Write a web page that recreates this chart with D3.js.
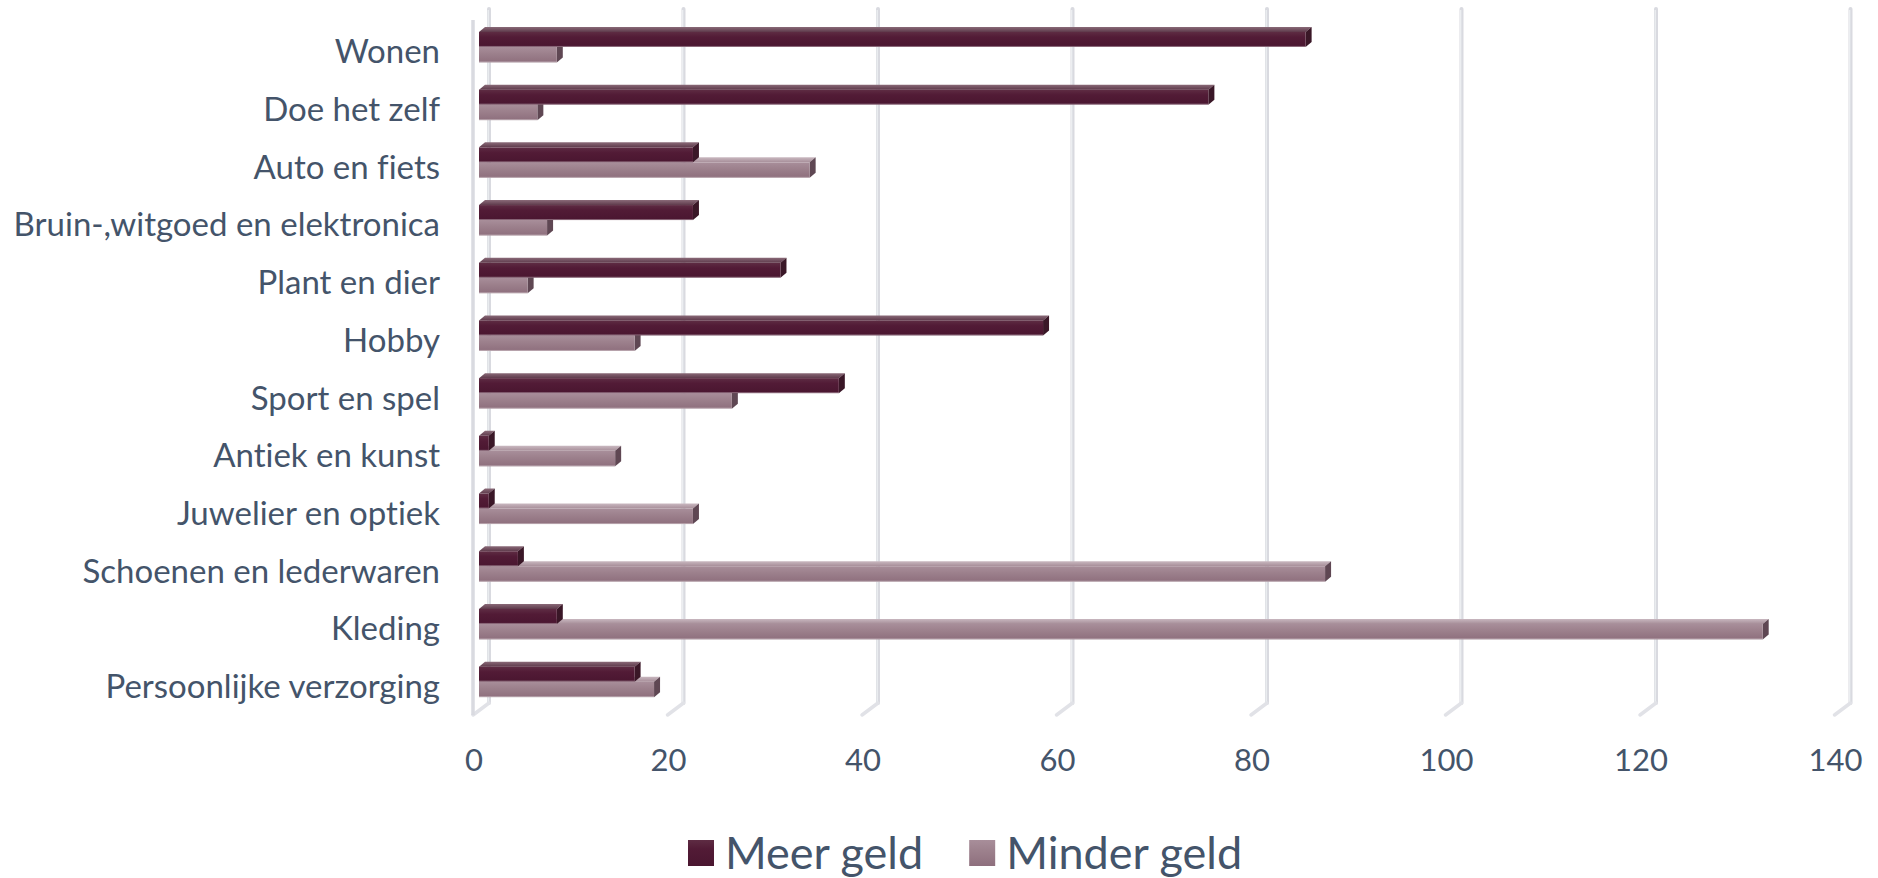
<!DOCTYPE html>
<html>
<head>
<meta charset="utf-8">
<script src="https://cdn.jsdelivr.net/npm/d3@7"></script>
<style>
  body { margin: 0; background: #fff; }
  svg { display: block; font-family: Lato, "Open Sans", sans-serif; font-variant-ligatures: none; }
</style>
</head>
<body>
<svg id="chart" width="1878" height="878"></svg>
<script>
// categories top -> bottom
var categories = ["Wonen", "Doe het zelf", "Auto en fiets", "Bruin-,witgoed en elektronica",
    "Plant en dier", "Hobby", "Sport en spel", "Antiek en kunst", "Juwelier en optiek",
    "Schoenen en lederwaren", "Kleding", "Persoonlijke verzorging"];
var meerGeld = [85, 75, 22, 22, 31, 58, 37, 1, 1, 4, 8, 16];
var minderGeld = [8, 6, 34, 7, 5, 16, 26, 14, 22, 87, 132, 18];
var seriesNames = ["Meer geld", "Minder geld"];
var xTicks = [0, 20, 40, 60, 80, 100, 120, 140];

var svg = d3.select("#chart");
var textColor = "#44546a";

// 3d-ish geometry: back wall, front plane, bar plane
var backX = 489, frontX = 473, barX = 479;
var floorBack = 703, floorFront = 715;
var depthDx = 6, depthDy = -5;   // bar depth

var x = d3.scaleLinear().domain([0, 140]).range([0, 1361.5]);
var y = d3.scaleBand().domain(categories).range([22.6, 715]);

var defs = svg.append("defs");
function vgrad(id, stops) {
    var g = defs.append("linearGradient").attr("id", id)
        .attr("x1", 0).attr("y1", 0).attr("x2", 0).attr("y2", 1);
    stops.forEach(s => g.append("stop").attr("offset", s[0]).attr("stop-color", s[1]));
}
vgrad("meerFront", [[0, "#5e2c43"], [0.35, "#521b36"], [1, "#4a1630"]]);
vgrad("minderFront", [[0, "#a88e9a"], [0.4, "#9d818d"], [1, "#8e6f7d"]]);
vgrad("meerTop", [[0, "#8a6a78"], [1, "#5e3a4b"]]);
vgrad("minderTop", [[0, "#c9b8c0"], [1, "#a68d98"]]);

// gridlines on back wall + floor
var grid = svg.append("g");
grid.selectAll("line.v").data(xTicks).join("line")
    .attr("x1", d => backX + x(d)).attr("x2", d => backX + x(d))
    .attr("y1", 9).attr("y2", floorBack)
    .attr("stroke", "#d9dae0").attr("stroke-width", 4).attr("stroke-linecap", "round");
grid.selectAll("line.v2").data(xTicks).join("line")
    .attr("x1", d => backX + x(d) - 0.8).attr("x2", d => backX + x(d) - 0.8)
    .attr("y1", 10).attr("y2", floorBack)
    .attr("stroke", "#eef0f3").attr("stroke-width", 1.2);
grid.selectAll("line.f").data(xTicks).join("line")
    .attr("x1", d => backX + x(d)).attr("x2", d => frontX + x(d))
    .attr("y1", floorBack).attr("y2", floorFront)
    .attr("stroke", "#e1e2e7").attr("stroke-width", 3.5).attr("stroke-linecap", "round");
// left wall front edge
grid.append("line")
    .attr("x1", frontX).attr("x2", frontX).attr("y1", 20).attr("y2", floorFront)
    .attr("stroke", "#d9dae0").attr("stroke-width", 3.5);

// bars
function drawBar(g, x0, x1, yTop, h, kind) {
    var side = kind == "meer" ? "#3a1727" : "#5f4753";
    // top face
    g.append("path")
        .attr("d", `M${x0},${yTop} L${x0 + depthDx},${yTop + depthDy} L${x1 + depthDx},${yTop + depthDy} L${x1},${yTop} Z`)
        .attr("fill", `url(#${kind}Top)`);
    // side face
    g.append("path")
        .attr("d", `M${x1},${yTop} L${x1 + depthDx},${yTop + depthDy} L${x1 + depthDx},${yTop + h + depthDy} L${x1},${yTop + h} Z`)
        .attr("fill", side);
    // front face
    g.append("rect")
        .attr("x", x0).attr("y", yTop).attr("width", Math.max(0, x1 - x0)).attr("height", h)
        .attr("fill", `url(#${kind}Front)`);
    g.append("line")
        .attr("x1", x0).attr("x2", x1).attr("y1", yTop + h - 0.5).attr("y2", yTop + h - 0.5)
        .attr("stroke", "#ffffff").attr("stroke-opacity", 0.35).attr("stroke-width", 1);
}

var bars = svg.append("g");
categories.forEach(function(c, i) {
    var cy = y(c) + y.bandwidth() / 2;
    var g = bars.append("g");
    // lower series first, upper one covers its top face
    drawBar(g, barX, barX + x(minderGeld[i]), cy - 4.5, 15.5, "minder");
    drawBar(g, barX, barX + x(meerGeld[i]), cy - 19.5, 15, "meer");
});

// category labels
svg.append("g")
    .attr("font-size", 33).attr("fill", textColor).attr("text-anchor", "end")
    .selectAll("text").data(categories).join("text")
    .attr("x", 440)
    .attr("y", d => y(d) + y.bandwidth() / 2)
    .attr("dy", "0.36em")
    .text(d => d);

// x tick labels
svg.append("g")
    .attr("font-size", 31).attr("fill", textColor).attr("text-anchor", "middle")
    .selectAll("text").data(xTicks).join("text")
    .attr("x", d => frontX + x(d) + 1)
    .attr("y", 771)
    .text(d => d);

// legend
var legend = svg.append("g").attr("font-size", 45).attr("fill", textColor);
var lx = 688;
seriesNames.forEach(function(name, i) {
    legend.append("rect")
        .attr("x", lx).attr("y", 840).attr("width", 26).attr("height", 26)
        .attr("fill", i == 0 ? "url(#meerFront)" : "url(#minderFront)");
    var t = legend.append("text").attr("x", lx + 37).attr("y", 869).text(name);
    lx += 37 + t.node().getComputedTextLength() + 46;
});
</script>
</body>
</html>
